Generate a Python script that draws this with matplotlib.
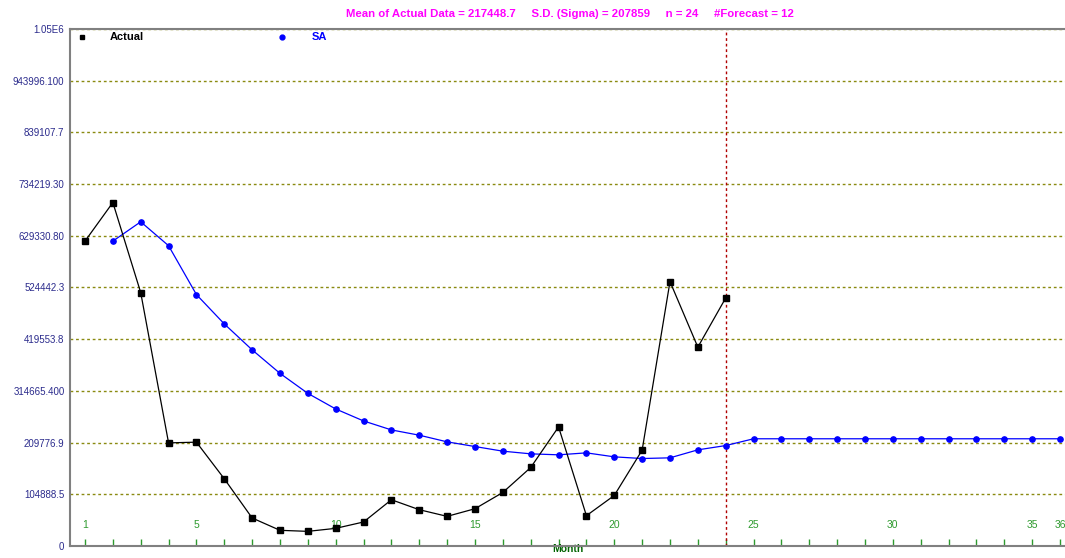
import matplotlib.pyplot as plt

# Data
months_actual = list(range(1, 25))
actual = [618300, 696600, 513900, 209100, 210600, 136300, 56800, 31800,
          29700, 35800, 48700, 93800, 73600, 60100, 75600, 108600,
          159200, 241500, 61500, 102500, 194400, 536200, 403300, 503000]

months_sa = list(range(2, 37))
sa = [618300, 657500, 609000, 509900, 450400, 397800, 350100, 309500,
      277900, 253600, 235400, 224700, 211200, 201700, 192300, 186900,
      184900, 188900, 180800, 177400, 178800, 195000, 203700,
      217448.7, 217448.7, 217448.7, 217448.7, 217448.7, 217448.7,
      217448.7, 217448.7, 217448.7, 217448.7, 217448.7, 217448.7]

ytick_vals = [0, 104888.5, 209776.9, 314665.4, 419553.8, 524442.3,
              629330.8, 734219.3, 839107.7, 943996.1, 1048885]
ytick_labels = ['0', '104888.5', '209776.9', '314665.400', '419553.8',
                '524442.3', '629330.80', '734219.30', '839107.7',
                '943996.100', '1.05E6']
xtick_shown = [1, 5, 10, 15, 20, 25, 30, 35, 36]
forecast_start = 24

title = ('Mean of Actual Data = 217448.7     S.D. (Sigma) = 207859     '
         'n = 24     #Forecast = 12')

plt.rcParams['font.family'] = ['Liberation Sans', 'DejaVu Sans']

fig = plt.figure(figsize=(10.65, 5.58), dpi=100)
ax = fig.add_axes([70 / 1065, 12 / 558, 995 / 1065, (545.5 - 28.3) / 558])

ax.plot(months_actual, actual, color='black', lw=0.9, marker='s',
        markersize=3.8, zorder=4)
ax.plot(months_sa, sa, color='#0000ff', lw=0.9, marker='o',
        markersize=3.8, zorder=3)

ax.axvline(forecast_start, color='#b00000', lw=1, linestyle=(0, (2, 2)),
           zorder=2)

ax.set_xlim(0.4616, 36.18)
ax.set_ylim(0, 1048885)

# y axis
ax.set_yticks(ytick_vals)
ax.set_yticklabels(ytick_labels)
ax.tick_params(axis='y', length=0, pad=4, labelsize=7, labelcolor='#2b2b8c')
ax.yaxis.grid(True, color='#8a8a10', lw=1, linestyle=(0, (2, 2)))

# x axis
ax.set_xticks(range(1, 37))
ax.set_xticklabels([str(m) if m in xtick_shown else '' for m in range(1, 37)])
ax.tick_params(axis='x', direction='in', length=5, width=1, color='#2e9a2e',
               labelcolor='#2e9a2e', labelsize=7.5, pad=-19)
ax.set_xlabel('Month', color='#006400', fontweight='bold', fontsize=7.5,
              labelpad=-1.5)

for side in ['left', 'bottom', 'top']:
    ax.spines[side].set_color('#808080')
    ax.spines[side].set_linewidth(1.5)
ax.spines['right'].set_visible(False)

fig.text(570 / 1065, 1 - 14 / 558, title, color='#ff00ff', fontweight='bold',
         fontsize=8.2, ha='center', va='center')

# legend drawn like the original header row
ax.plot([12 / 995], [0.984], transform=ax.transAxes, marker='s',
        color='black', markersize=3.5, clip_on=False)
ax.text(40 / 995, 0.984, 'Actual', transform=ax.transAxes, color='black',
        fontweight='bold', fontsize=8, va='center')
ax.plot([212 / 995], [0.984], transform=ax.transAxes, marker='o',
        color='#0000ff', markersize=3.5, clip_on=False)
ax.text(242 / 995, 0.984, 'SA', transform=ax.transAxes, color='#0000ff',
        fontweight='bold', fontsize=8, va='center')

fig.savefig('out.png', dpi=100)
